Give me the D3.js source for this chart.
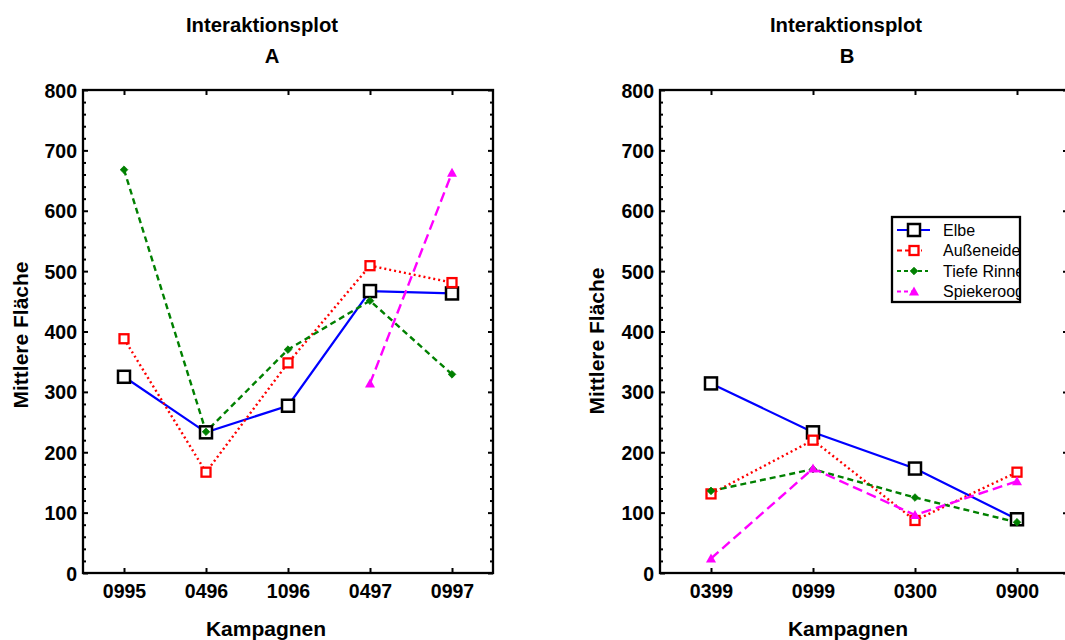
<!DOCTYPE html>
<html>
<head>
<meta charset="utf-8">
<script src="https://cdn.jsdelivr.net/npm/d3@7"></script>
<style>
  html, body { margin: 0; padding: 0; background: #fff; }
  svg { display: block; font-family: "Liberation Sans", Arial, sans-serif; }
</style>
</head>
<body>
<svg id="chart" width="1065" height="640"></svg>
<script>
// Campaign labels for each panel
const campaignsA = ["0995", "0496", "1096", "0497", "0997"];
const campaignsB = ["0399", "0999", "0300", "0900"];

// Mean area per site (null = no sample)
const elbeA       = [325, 233, 277, 467, 463];
const aussenA     = [388, 167, 348, 509, 481];
const tiefeA      = [668, 234, 370, 451, 329];
const spiekA      = [null, null, null, 314, 663];

const elbeB       = [314, 233, 173, 89];
const aussenB     = [131, 220, 87, 167];
const tiefeB      = [136, 172, 125, 84];
const spiekB      = [24, 173, 96, 152];

const seriesNames = ["Elbe", "Außeneide", "Tiefe Rinne", "Spiekeroog"];
const yMajorTicks = [0, 100, 200, 300, 400, 500, 600, 700, 800];

const svg = d3.select("#chart");

const styles = {
  "Elbe":        { color: "#0000ff", dash: null,  width: 2.2, marker: "bigsquare" },
  "Außeneide":   { color: "#ff0000", dash: "2,3", width: 2.4, marker: "square" },
  "Tiefe Rinne": { color: "#008000", dash: "6,4", width: 2.4, marker: "diamond" },
  "Spiekeroog":  { color: "#ff00ff", dash: "10,5", width: 2.4, marker: "triangle" }
};

function drawMarker(g, type, x, y, color) {
  if (type === "bigsquare") {
    g.append("rect").attr("x", x - 6).attr("y", y - 6).attr("width", 12).attr("height", 12)
      .attr("fill", "#fff").attr("stroke", "#000").attr("stroke-width", 2.5);
  } else if (type === "square") {
    g.append("rect").attr("x", x - 4.5).attr("y", y - 4.5).attr("width", 9).attr("height", 9)
      .attr("fill", "#fff").attr("stroke", color).attr("stroke-width", 2.3);
  } else if (type === "diamond") {
    g.append("path").attr("d", `M${x},${y - 3.8}L${x + 3.8},${y}L${x},${y + 3.8}L${x - 3.8},${y}Z`)
      .attr("fill", color).attr("stroke", color).attr("stroke-width", 0.8);
  } else if (type === "triangle") {
    g.append("path").attr("d", `M${x},${y - 5}L${x + 5},${y + 4}L${x - 5},${y + 4}Z`)
      .attr("fill", color);
  }
}

function panel(opts) {
  const { cats, data, x0, x1, letter, titleX, letterX, xTitleX, yTitleX, yTitleY } = opts;
  const top = 90, bottom = 573;
  const x = d3.scalePoint().domain(cats).range([x0, x1]).padding(0.5);
  const y = d3.scaleLinear().domain([0, 800]).range([bottom, top]);
  const g = svg.append("g");

  // Titles
  g.append("text").attr("x", titleX).attr("y", 32).attr("text-anchor", "middle")
    .attr("font-size", 20.3).attr("font-weight", "bold").text("Interaktionsplot");
  g.append("text").attr("x", letterX).attr("y", 63).attr("text-anchor", "middle")
    .attr("font-size", 20.3).attr("font-weight", "bold").text(letter);

  // Axis titles
  g.append("text").attr("x", xTitleX).attr("y", 636).attr("text-anchor", "middle")
    .attr("font-size", 21).attr("font-weight", "bold").text("Kampagnen");
  g.append("text").attr("transform", `translate(${yTitleX},${yTitleY}) rotate(-90)`)
    .attr("text-anchor", "middle").attr("font-size", 21).attr("font-weight", "bold")
    .text("Mittlere Fläche");

  // Minor ticks every 20
  const minor = d3.range(0, 801, 20).filter(v => v % 100 !== 0);
  const axL = g.append("g").attr("transform", `translate(${x0},0)`)
    .call(d3.axisLeft(y).tickValues(yMajorTicks).tickSize(-5).tickPadding(6).tickFormat(d3.format("d")));
  g.append("g").attr("transform", `translate(${x0},0)`)
    .call(d3.axisLeft(y).tickValues(minor).tickSize(-3).tickFormat(""));
  g.append("g").attr("transform", `translate(${x1},0)`)
    .call(d3.axisRight(y).tickValues(yMajorTicks).tickSize(-5).tickFormat(""));
  g.append("g").attr("transform", `translate(${x1},0)`)
    .call(d3.axisRight(y).tickValues(minor).tickSize(-3).tickFormat(""));
  const axB = g.append("g").attr("transform", `translate(0,${bottom})`)
    .call(d3.axisBottom(x).tickSize(-5).tickPadding(12));
  g.append("g").attr("transform", `translate(0,${top})`)
    .call(d3.axisTop(x).tickSize(-5).tickFormat(""));

  g.selectAll(".domain").remove();
  g.selectAll(".tick line").attr("stroke", "#000").attr("stroke-width", 2);
  axL.selectAll(".tick text").attr("font-size", 19.5).attr("font-weight", "bold")
    .attr("font-family", "Liberation Sans, Arial, sans-serif").attr("fill", "#000")
    .attr("dy", "0.36em");
  axB.selectAll(".tick text").attr("font-size", 19.5).attr("font-weight", "bold")
    .attr("font-family", "Liberation Sans, Arial, sans-serif").attr("fill", "#000")
    .attr("dy", "0.66em");

  // Frame
  g.append("rect").attr("x", x0).attr("y", top).attr("width", x1 - x0).attr("height", bottom - top)
    .attr("fill", "none").attr("stroke", "#000").attr("stroke-width", 2.3);

  // Series
  seriesNames.forEach((name, i) => {
    const st = styles[name];
    const vals = data[i];
    const pts = cats.map((c, j) => ({ c, v: vals[j] })).filter(d => d.v !== null);
    const line = d3.line().x(d => x(d.c)).y(d => y(d.v));
    g.append("path").datum(pts).attr("d", line).attr("fill", "none")
      .attr("stroke", st.color).attr("stroke-width", st.width)
      .attr("stroke-dasharray", st.dash);
  });
  seriesNames.forEach((name, i) => {
    const st = styles[name];
    cats.forEach((c, j) => {
      const v = data[i][j];
      if (v !== null) drawMarker(g, st.marker, x(c), y(v), st.color);
    });
  });
  return { x, y, g };
}

panel({
  cats: campaignsA, data: [elbeA, aussenA, tiefeA, spiekA],
  x0: 83, x1: 493, letter: "A", titleX: 262, letterX: 272, xTitleX: 266,
  yTitleX: 28, yTitleY: 335
});

panel({
  cats: campaignsB, data: [elbeB, aussenB, tiefeB, spiekB],
  x0: 660, x1: 1068, letter: "B", titleX: 846, letterX: 847, xTitleX: 848,
  yTitleX: 604, yTitleY: 341
});

// Legend (right panel), entries cut off at the box edge
const lg = svg.append("g");
const lx = 892, ly = 217, lw = 128, lh = 85;
svg.append("defs").append("clipPath").attr("id", "legclip")
  .append("rect").attr("x", lx).attr("y", ly).attr("width", lw).attr("height", lh);
lg.append("rect").attr("x", lx).attr("y", ly).attr("width", lw).attr("height", lh)
  .attr("fill", "#fff").attr("stroke", "#000").attr("stroke-width", 2.3);
const lgc = lg.append("g").attr("clip-path", "url(#legclip)");
const legendSegs = { "Elbe": [897, 930], "Außeneide": [897, 922], "Tiefe Rinne": [897, 928], "Spiekeroog": [897, 917] };
seriesNames.forEach((name, i) => {
  const st = styles[name];
  const yy = ly + 13 + i * 20.5;
  const seg = legendSegs[name];
  lgc.append("line").attr("x1", seg[0]).attr("x2", seg[1]).attr("y1", yy).attr("y2", yy)
    .attr("stroke", st.color).attr("stroke-width", 2)
    .attr("stroke-dasharray", name === "Außeneide" ? "5,3" : st.dash ? "4,3" : null);
  drawMarker(lgc, st.marker, 914, yy, st.color);
  lgc.append("text").attr("x", 943).attr("y", yy + 5.5).attr("font-size", 16).text(name);
});
</script>
</body>
</html>
